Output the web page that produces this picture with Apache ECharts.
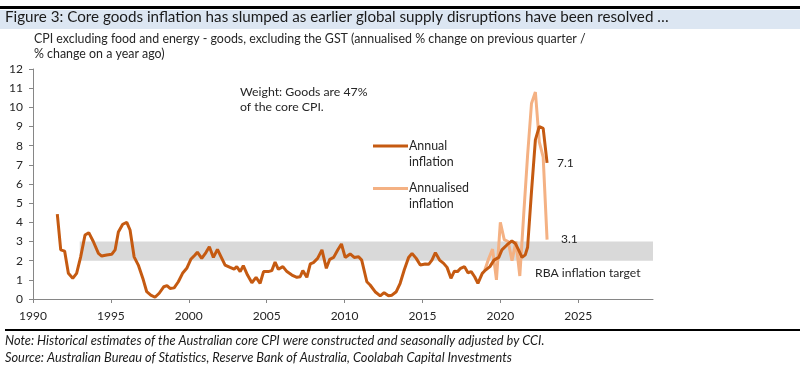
<!DOCTYPE html>
<html>
<head>
<meta charset="utf-8">
<script src="https://cdn.jsdelivr.net/npm/echarts@6/dist/echarts.min.js"></script>
<style>html,body{margin:0;padding:0;background:#fff;}#c{width:800px;height:372px;}</style>
</head>
<body>
<div id="c"></div>
<script>
// Annual inflation (% change on a year ago)
const annualYears = [1991.56,1991.78,1992.03,1992.27,1992.55,1992.8,1993.06,1993.34,1993.58,1993.87,1994.2,1994.41,1994.73,1995.05,1995.27,1995.48,1995.76,1996.02,1996.23,1996.49,1996.76,1997.08,1997.3,1997.56,1997.83,1998.1,1998.4,1998.6,1998.8,1999.06,1999.33,1999.6,1999.87,2000.13,2000.4,2000.55,2000.83,2001.1,2001.32,2001.58,2001.84,2002.05,2002.33,2002.65,2002.91,2003.08,2003.3,2003.5,2003.77,2004.05,2004.32,2004.58,2004.8,2005.1,2005.33,2005.54,2005.75,2006.04,2006.3,2006.62,2006.94,2007.15,2007.32,2007.58,2007.8,2008.0,2008.27,2008.55,2008.83,2009.05,2009.3,2009.56,2009.8,2010.04,2010.36,2010.62,2010.9,2011.1,2011.43,2011.64,2011.96,2012.29,2012.54,2012.82,2013.04,2013.32,2013.57,2013.83,2014.11,2014.33,2014.6,2014.86,2015.18,2015.4,2015.61,2015.83,2016.1,2016.36,2016.58,2016.83,2017.05,2017.25,2017.45,2017.7,2017.92,2018.13,2018.35,2018.56,2018.84,2019.05,2019.33,2019.59,2019.9,2020.1,2020.42,2020.74,2020.96,2021.17,2021.39,2021.6,2021.75,2022.0,2022.25,2022.5,2022.75,2023.0];
const annualValues = [4.43,2.56,2.5,1.34,1.08,1.34,2.2,3.34,3.46,3.0,2.38,2.24,2.3,2.33,2.56,3.5,3.9,4.0,3.6,2.2,1.77,1.0,0.38,0.2,0.09,0.3,0.64,0.7,0.55,0.58,0.9,1.34,1.6,2.07,2.3,2.44,2.12,2.42,2.73,2.17,2.59,2.24,1.77,1.65,1.56,1.69,1.43,1.74,1.25,0.85,1.13,0.82,1.43,1.43,1.48,1.93,1.55,1.69,1.43,1.25,1.13,1.16,1.48,1.13,1.83,1.9,2.12,2.56,1.6,2.07,2.17,2.56,2.87,2.17,2.35,2.17,2.2,2.03,0.9,0.73,0.38,0.16,0.33,0.17,0.2,0.38,0.82,1.51,2.17,2.38,2.12,1.77,1.83,1.81,2.03,2.42,2.03,1.86,1.65,1.08,1.45,1.43,1.6,1.69,1.37,1.43,1.16,0.82,1.34,1.51,1.69,2.03,2.17,2.56,2.82,3.03,2.9,2.56,2.17,2.3,2.7,5.6,8.3,9.0,8.9,7.1];

// Annualised inflation (annualised % change on previous quarter)
const annualisedYears = [2019.0,2019.25,2019.5,2019.75,2020.0,2020.25,2020.5,2020.75,2021.0,2021.25,2021.5,2021.75,2022.0,2022.25,2022.5,2022.75,2023.0];
const annualisedValues = [1.5,2.1,2.6,1.0,4.0,3.1,3.0,2.0,3.0,1.2,4.4,7.5,10.2,10.8,8.2,7.4,3.1];

// RBA target band
const targetStart = 1993;
const targetLow = 2;
const targetHigh = 3;

// Axes
const xMin = 1990, xMax = 2029.8, xStep = 5;
const yMin = 0, yMax = 12, yStep = 1;

const seriesNames = ['Annual inflation', 'Annualised inflation'];
const darkC = '#C55A11', lightC = '#F4B183';

const zip = (xs, ys) => xs.map((x, i) => [x, ys[i]]);

const chart = echarts.init(document.getElementById('c'), null, {renderer: 'canvas'});
const FONT = 'Lato, "Open Sans", sans-serif';
const txt = '#262626';

chart.setOption({
  animation: false,
  textStyle: {fontFamily: FONT},
  grid: {left: 33, right: 147, top: 69, bottom: 73, containLabel: false},
  xAxis: {
    type: 'value', min: xMin, max: xMax, interval: xStep,
    axisLine: {show: true, lineStyle: {color: '#868686', width: 1}},
    axisTick: {show: true, length: 4, lineStyle: {color: '#868686'}},
    axisLabel: {showMaxLabel: false, color: txt, fontSize: 12, margin: 11, fontFamily: FONT,
      formatter: v => String(Math.round(v))},
    splitLine: {show: false}
  },
  yAxis: {
    type: 'value', min: yMin, max: yMax, interval: yStep,
    axisLine: {show: true, lineStyle: {color: '#868686', width: 1}},
    axisTick: {show: true, length: 4, lineStyle: {color: '#868686'}},
    axisLabel: {color: txt, fontSize: 12, margin: 10, fontFamily: FONT},
    splitLine: {show: false}
  },
  series: [
    {
      name: 'band', type: 'line', data: [], z: 1, silent: true,
      markArea: {
        silent: true,
        itemStyle: {color: '#d9d9d9'},
        data: [[{coord: [targetStart, targetLow]}, {coord: [xMax, targetHigh]}]]
      }
    },
    {
      name: seriesNames[1], type: 'line', z: 3,
      data: zip(annualisedYears, annualisedValues),
      showSymbol: false, symbol: 'none',
      lineStyle: {color: lightC, width: 3},
      itemStyle: {color: lightC},
      endLabel: {show: true, distance: 14, color: txt, fontSize: 12, fontFamily: FONT,
        formatter: p => p.value[1].toFixed(1)}
    },
    {
      name: seriesNames[0], type: 'line', z: 4,
      data: zip(annualYears, annualValues),
      showSymbol: false, symbol: 'none',
      lineStyle: {color: darkC, width: 3},
      itemStyle: {color: darkC},
      endLabel: {show: true, distance: 10, color: txt, fontSize: 12, fontFamily: FONT,
        formatter: p => p.value[1].toFixed(1)}
    }
  ],
  graphic: [
    {type: 'rect', shape: {x: 0, y: 6, width: 800, height: 3}, style: {fill: '#000'}, silent: true},
    {type: 'rect', shape: {x: 0, y: 10, width: 800, height: 19}, style: {fill: '#dce6f2'}, silent: true},
    {type: 'text', left: 5, top: 10, style: {text: 'Figure 3: Core goods inflation has slumped as earlier global supply disruptions have been resolved …', font: '15.2px ' + FONT, fill: '#1a1a1a'}},
    {type: 'text', left: 34, top: 31, style: {text: 'CPI excluding food and energy - goods, excluding the GST (annualised % change on previous quarter /\n% change on a year ago)', font: '12.4px ' + FONT, fill: txt, lineHeight: 15}},
    {type: 'text', left: 240, top: 85, style: {text: 'Weight: Goods are 47%\nof the core CPI.', font: '12.3px ' + FONT, fill: txt, lineHeight: 15}},
    {type: 'rect', shape: {x: 373, y: 144.5, width: 35, height: 3}, style: {fill: darkC}, silent: true},
    {type: 'text', left: 409, top: 138, style: {text: 'Annual\ninflation', font: '12.4px ' + FONT, fill: txt, lineHeight: 16}},
    {type: 'rect', shape: {x: 373, y: 187, width: 35, height: 3}, style: {fill: lightC}, silent: true},
    {type: 'text', left: 409, top: 180, style: {text: 'Annualised\ninflation', font: '12.4px ' + FONT, fill: txt, lineHeight: 16}},
    {type: 'text', left: 535, top: 267, style: {text: 'RBA inflation target', font: '12.2px ' + FONT, fill: txt}},
    {type: 'rect', shape: {x: 5, y: 329, width: 795, height: 2}, style: {fill: '#000'}, silent: true},
    {type: 'text', left: 5, top: 333, style: {text: 'Note: Historical estimates of the Australian core CPI were constructed and seasonally adjusted by CCI.\nSource: Australian Bureau of Statistics, Reserve Bank of Australia, Coolabah Capital Investments', font: 'italic 12.8px ' + FONT, fill: '#1a1a1a', lineHeight: 16.5}}
  ]
});
</script>
</body>
</html>
